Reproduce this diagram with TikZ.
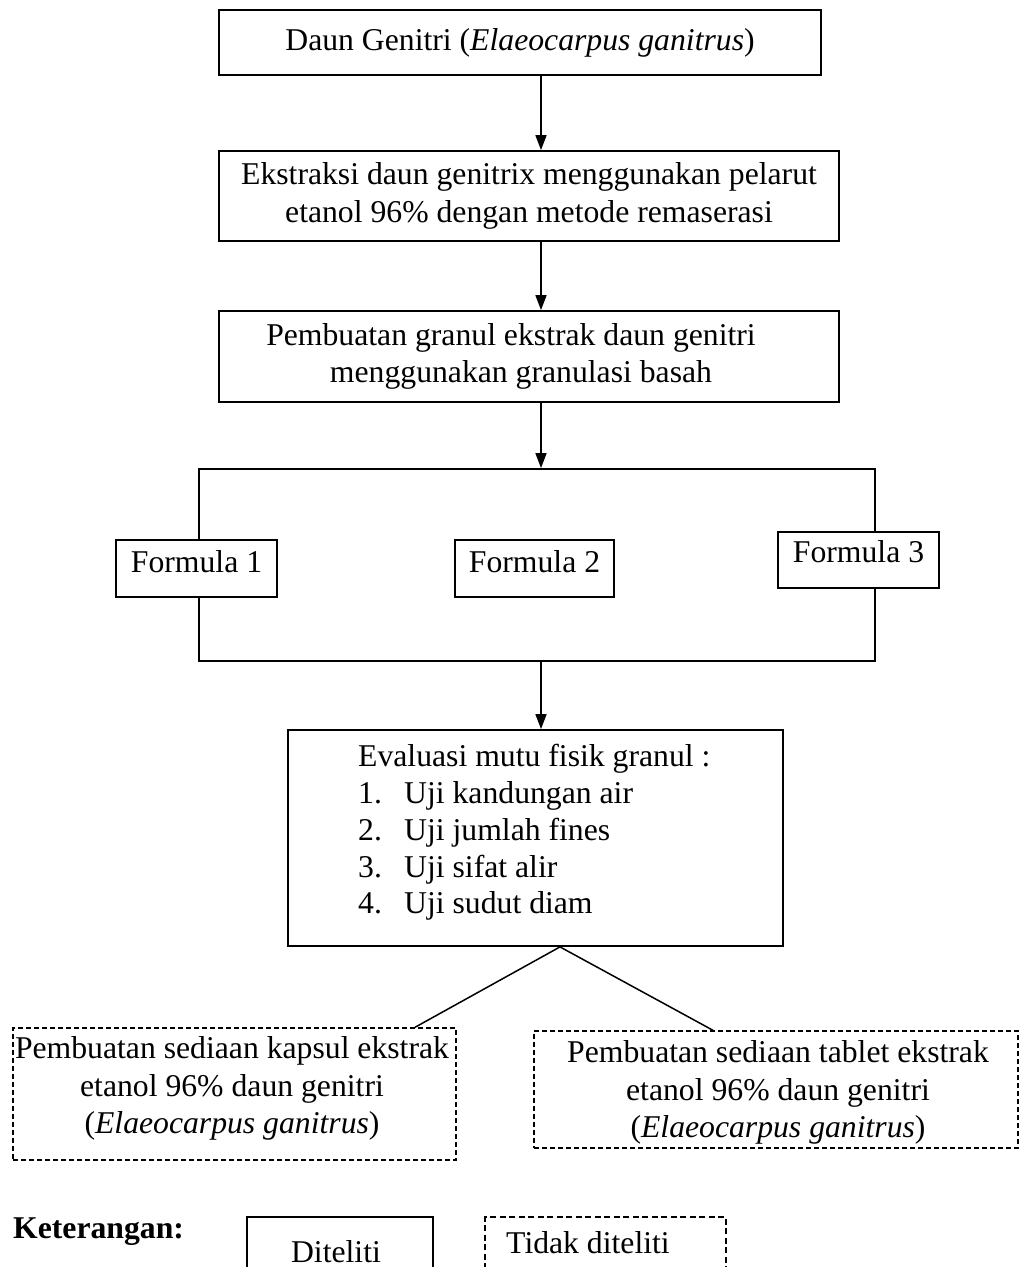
\documentclass[tikz,border=0pt]{standalone}
\usepackage{fontspec}
\setmainfont{Liberation Serif}
\usetikzlibrary{arrows.meta,calc}
\newcommand\bigf{\fontsize{31.7}{37.5}\selectfont}
\begin{document}
\begin{tikzpicture}[x=1pt,y=-1pt,
  every node/.style={font=\bigf},
  box/.style={draw,line width=1.8pt,rectangle,inner sep=0pt},
  dbox/.style={draw,line width=1.4pt,dash pattern=on 5pt off 3pt,inner sep=0pt},
  legbox/.style={draw,line width=2.2pt,inner sep=0pt},
  legdbox/.style={draw,line width=2.2pt,dash pattern=on 6pt off 3.5pt,inner sep=0pt},
  arr/.style={line width=1.6pt,-{Triangle[length=15pt,width=11pt]}},
  ln/.style={line width=1.5pt},
  txt/.style={inner sep=0pt,align=center}]
\useasboundingbox (0,0) rectangle (1020,1267);
\clip (0,0) rectangle (1020,1267);

% main chain
\node[box,minimum width=602pt,minimum height=65pt] (b1) at (520,42.5)
  {Daun Genitri (\textit{Elaeocarpus ganitrus})};
\node[box,minimum width=620pt,minimum height=90pt,align=center] (b2) at (529,196)
  {Ekstraksi daun genitrix menggunakan pelarut\\etanol 96\% dengan metode remaserasi};
\node[box,minimum width=620pt,minimum height=91pt,align=center] (b3) at (529,356.5)
  {Pembuatan granul ekstrak daun genitri\hspace*{36pt}\\menggunakan granulasi basah\hspace*{16pt}};

% formula group
\node[box,minimum width=676pt,minimum height=192pt] (grp) at (537,565) {};
\node[box,fill=white,minimum width=161pt,text height=32pt,text depth=25pt] (f1) at (196.5,568.5) {Formula 1};
\node[box,fill=white,minimum width=159pt,text height=32pt,text depth=25pt] (f2) at (534.5,568.5) {Formula 2};
\node[box,fill=white,minimum width=161pt,text height=30pt,text depth=26pt] (f3) at (858.5,560) {Formula 3};

% evaluation
\node[box,minimum width=495pt,minimum height=216pt] (ev) at (535.5,838) {};
\node[anchor=base west,inner sep=0pt] (ev0) at (358,766) {Evaluasi mutu fisik granul :};
\node[anchor=base west,inner sep=0pt] (ev1) at (358,803) {\makebox[46pt][l]{1.}Uji kandungan air};
\node[anchor=base west,inner sep=0pt] (ev2) at (358,840) {\makebox[46pt][l]{2.}Uji jumlah fines};
\node[anchor=base west,inner sep=0pt] (ev3) at (358,877) {\makebox[46pt][l]{3.}Uji sifat alir};
\node[anchor=base west,inner sep=0pt] (ev4) at (358,913) {\makebox[46pt][l]{4.}Uji sudut diam};

% outcomes (not studied)
\node[dbox,minimum width=443pt,minimum height=132pt] (k1) at (234.5,1094) {};
\node[txt] (k1t) at (232,1088.6) {Pembuatan sediaan kapsul ekstrak\\etanol 96\% daun genitri\\(\textit{Elaeocarpus ganitrus})};
\node[dbox,minimum width=484pt,minimum height=117pt] (k2) at (776,1089.5) {};
\node[txt] (k2t) at (778,1092.6) {Pembuatan sediaan tablet ekstrak\\etanol 96\% daun genitri\\(\textit{Elaeocarpus ganitrus})};

% connectors
\coordinate (ax) at (541,0);
\coordinate (ap) at (560,0);
\coordinate (lx) at (415,0);
\coordinate (rx) at (713,0);
\draw[arr] (b1.south -| ax) -- (b2.north -| ax);
\draw[arr] (b2.south -| ax) -- (b3.north -| ax);
\draw[arr] (b3.south -| ax) -- (grp.north -| ax);
\draw[arr] (grp.south -| ax) -- (ev.north -| ax);
\draw[ln] (k1.north -| lx) -- (ev.south -| ap) -- (k2.north -| rx);

% legend
\node[anchor=west,inner sep=0pt,font=\bigf\bfseries] (ket) at (13,1232) {Keterangan:};
\node[legbox,minimum width=186pt,minimum height=80pt] (lg1) at (340,1257) {};
\node[inner sep=0pt] (lg1t) at (336,1252) {Diteliti};
\node[legdbox,minimum width=241pt,minimum height=80pt] (lg2) at (605.5,1257) {};
\node[inner sep=0pt] (lg2t) at (588,1243) {Tidak diteliti};
\end{tikzpicture}
\end{document}
